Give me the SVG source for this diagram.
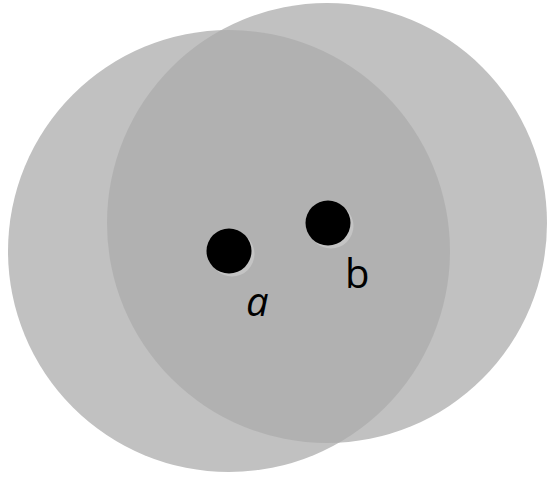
<svg xmlns="http://www.w3.org/2000/svg" width="547" height="477" viewBox="0 0 547 477">
<style>
.disc{fill:#c1c1c1}
.ov{fill:#b1b1b1}
.dot{fill:#000}
.sh{fill:#c4c4c4}
.lbl{font-family:"Open Sans","Noto Sans",sans-serif;font-size:40px;fill:#000}
</style>
<defs>
<clipPath id="clipL"><circle cx="229" cy="251" r="221"/></clipPath>
</defs>
<rect width="547" height="477" fill="#fff"/>
<g id="setA"><circle class="disc" cx="229" cy="251" r="221"/></g>
<g id="setB"><circle class="disc" cx="327" cy="223" r="220"/></g>
<g id="overlap"><circle class="ov" cx="327" cy="223" r="220" clip-path="url(#clipL)"/></g>
<g id="pointA">
<circle class="sh" cx="232" cy="254" r="22.5"/>
<circle class="dot" cx="229" cy="251" r="22.5"/>
<text class="lbl" x="246" y="316" font-style="italic">a</text>
</g>
<g id="pointB">
<circle class="sh" cx="331" cy="226" r="22.5"/>
<circle class="dot" cx="328" cy="223" r="22.5"/>
<text class="lbl" x="345" y="288">b</text>
</g>
<g id="connectors"/>
</svg>
